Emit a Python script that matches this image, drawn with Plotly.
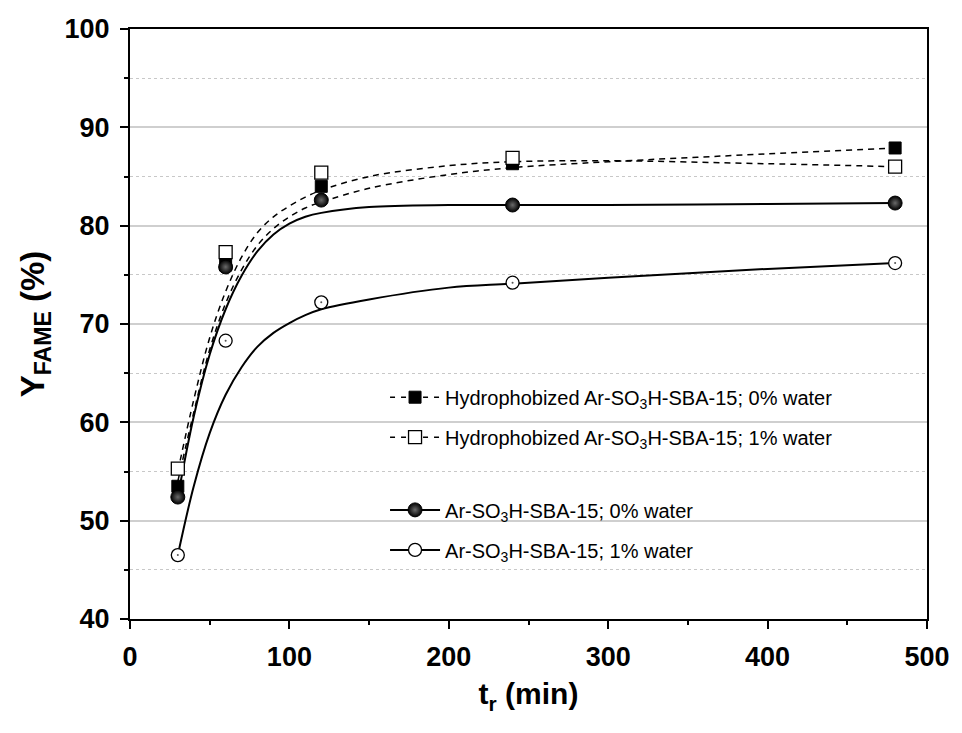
import plotly.graph_objects as go

# ---- data ----
t_min = [30, 60, 120, 240, 480]
hydro_0 = [53.5, 76.0, 84.0, 86.3, 87.9]
hydro_1 = [55.3, 77.3, 85.4, 86.9, 86.0]
ar_0 = [52.4, 75.8, 82.6, 82.1, 82.3]
ar_1 = [46.5, 68.3, 72.2, 74.2, 76.2]

# fitted curves
fit_x = [30, 40, 50, 60, 70, 80, 90, 100, 110, 120, 150, 200, 240, 300, 400, 480]
hydro_0_fit = [54.0, 61.0, 67.4, 72.1, 75.5, 78.0, 79.7, 80.9, 81.8, 82.4, 83.8, 85.2, 85.9, 86.5, 87.3, 87.9]
hydro_1_fit = [55.0, 62.3, 68.6, 73.3, 76.8, 79.3, 80.9, 82.0, 82.9, 83.6, 85.0, 86.1, 86.5, 86.6, 86.3, 86.0]
ar_0_fit = [52.4, 60.6, 66.9, 71.5, 74.9, 77.4, 79.1, 80.2, 80.9, 81.3, 81.9, 82.1, 82.1, 82.1, 82.2, 82.3]
ar_1_fit = [46.5, 53.5, 58.9, 62.8, 65.6, 67.7, 69.1, 70.1, 70.9, 71.5, 72.5, 73.7, 74.1, 74.7, 75.6, 76.2]

names = [
    "Hydrophobized Ar-SO<sub>3</sub>H-SBA-15; 0% water",
    "Hydrophobized Ar-SO<sub>3</sub>H-SBA-15; 1% water",
    "Ar-SO<sub>3</sub>H-SBA-15; 0% water",
    "Ar-SO<sub>3</sub>H-SBA-15; 1% water",
]

FONT = "Liberation Sans, Arial, sans-serif"

m_sq_fill = dict(symbol="square", size=12, color="black", line=dict(color="black", width=1))
m_sq_open = dict(symbol="square", size=13, color="white", line=dict(color="black", width=1.3))
m_ball = dict(symbol="circle", size=14, color="black",
              gradient=dict(type="radial", color="#6a6a6a"), line=dict(color="black", width=1))
m_ring = dict(symbol="circle", size=13, color="white", line=dict(color="black", width=1.3))

series = [
    (hydro_0, hydro_0_fit, m_sq_fill, "dash", "legend", names[0]),
    (hydro_1, hydro_1_fit, m_sq_open, "dash", "legend", names[1]),
    (ar_0, ar_0_fit, m_ball, "solid", "legend2", names[2]),
    (ar_1, ar_1_fit, m_ring, "solid", "legend2", names[3]),
]

fig = go.Figure()

# fitted curves
for vals, fit, mk, dash, lg, nm in series:
    fig.add_trace(go.Scatter(
        x=fit_x, y=fit, mode="lines", showlegend=False, hoverinfo="skip",
        line=dict(color="black", width=2 if dash == "solid" else 1.5,
                  dash="6px,5px" if dash == "dash" else "solid",
                  shape="spline", smoothing=1.0)))

# data markers
for vals, fit, mk, dash, lg, nm in series:
    fig.add_trace(go.Scatter(x=t_min, y=vals, mode="markers", marker=mk, showlegend=False, name=nm))

# tiny centre dot of the open circles
fig.add_trace(go.Scatter(x=t_min, y=ar_1, mode="markers", showlegend=False, hoverinfo="skip",
                         marker=dict(symbol="circle", size=2, color="#555555")))

# legend entries
for i, (vals, fit, mk, dash, lg, nm) in enumerate(series):
    fig.add_trace(go.Scatter(
        x=[None], y=[None], mode="lines+markers", name=nm, legend=lg, legendgroup=f"g{i}",
        marker=mk, line=dict(color="black", width=1.5 if dash == "dash" else 2,
                             dash="5px,6px" if dash == "dash" else "solid")))

legend_common = dict(
    font=dict(family=FONT, size=20, color="black"),
    bgcolor="rgba(0,0,0,0)", borderwidth=0, traceorder="grouped", tracegroupgap=11,
    itemwidth=50, xanchor="left", yanchor="top", x=0.32,
)

fig.update_layout(
    width=962, height=733,
    margin=dict(l=130, r=30, t=29, b=114),
    paper_bgcolor="white", plot_bgcolor="white",
    font=dict(family=FONT, color="black"),
    legend=dict(**legend_common, y=0.409),
    legend2=dict(**legend_common, y=0.218),
    shapes=[dict(type="rect", xref="paper", yref="paper", layer="between",
                 x0=(338 - 130) / 802, x1=(890 - 130) / 802,
                 y0=(619 - 590) / 590, y1=(619 - 350) / 590,
                 fillcolor="white", line=dict(width=0))],
)

fig.update_xaxes(
    range=[0, 500], dtick=100, tick0=0,
    showline=True, linecolor="black", linewidth=2, mirror=True,
    ticks="outside", ticklen=8, tickwidth=2, tickcolor="black",
    minor=dict(dtick=50, ticks="outside", ticklen=4, tickwidth=2, tickcolor="black", showgrid=False),
    showgrid=False, zeroline=False,
    tickfont=dict(family=FONT, size=27, weight="bold"), ticklabelstandoff=5,
    title=dict(text="t<sub>r</sub> (min)", font=dict(family=FONT, size=30, weight="bold"), standoff=12),
)
fig.update_yaxes(
    range=[40, 100], dtick=10, tick0=40,
    showline=True, linecolor="black", linewidth=2, mirror=True,
    ticks="outside", ticklen=8, tickwidth=2, tickcolor="black",
    showgrid=True, gridcolor="#cfcfcf", gridwidth=1.5,
    minor=dict(dtick=5, ticks="outside", ticklen=4, tickwidth=2, tickcolor="black",
               showgrid=True, gridcolor="#c8c8c8", gridwidth=1, griddash="dot"),
    zeroline=False,
    tickfont=dict(family=FONT, size=27, weight="bold"), ticklabelstandoff=5,
    title=dict(text="Y<sub>FAME</sub> (%)",
               font=dict(family=FONT, size=33, weight="bold"), standoff=10),
)

fig.write_html("out.html")
